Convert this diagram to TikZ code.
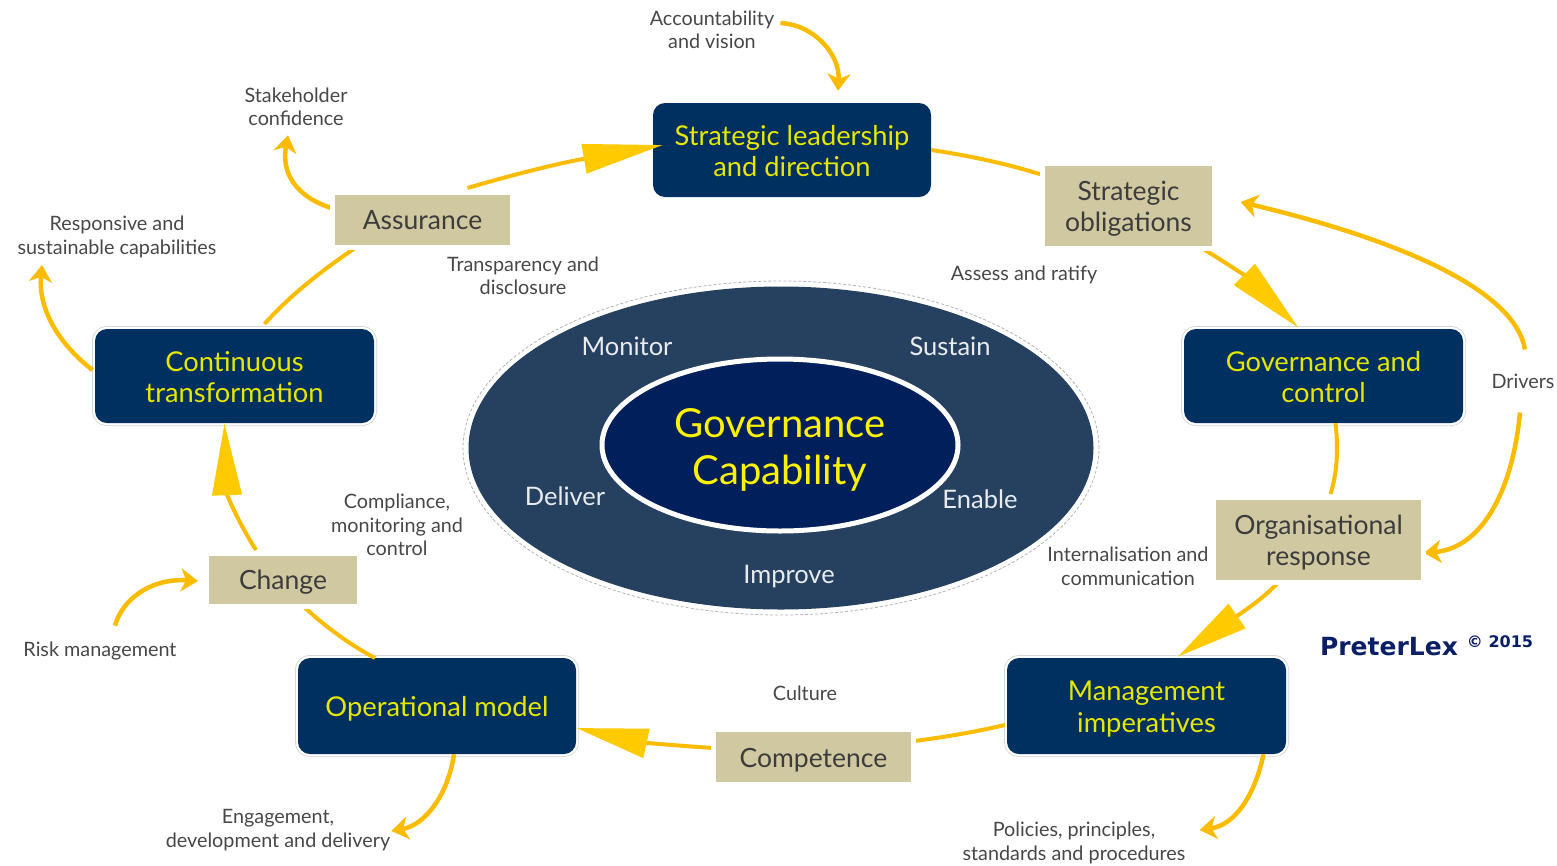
\documentclass[tikz,border=0pt]{standalone}
\usepackage{fontspec}
\setmainfont{Lato}
\newfontfamily\logofont{DejaVu Sans}
\usetikzlibrary{arrows.meta,shapes.geometric}
\definecolor{navybox}{HTML}{003060}
\definecolor{tanbox}{HTML}{CFC8A0}
\definecolor{ringc}{HTML}{264060}
\definecolor{corec}{HTML}{001F5B}
\definecolor{linec}{HTML}{FBBC00}
\definecolor{headc}{HTML}{FFCA00}
\definecolor{yellowt}{HTML}{E6E600}
\definecolor{darkt}{HTML}{3C3C3C}
\definecolor{labelt}{HTML}{474747}
\definecolor{logoc}{HTML}{0B1F66}
\newcommand\tanstrut{\rule{0pt}{25pt}}
\newcommand\navystrut{\rule{0pt}{22pt}}
\newcommand\lowstrut{\rule{0pt}{26pt}}
\tikzset{
  navyplain/.style={rectangle,rounded corners=12pt,inner sep=0pt,fill=navybox,text=yellowt,align=center,
    font=\fontsize{27.3}{31.5}\selectfont},
  navynode/.style={navyplain,preaction={draw=black!18,line width=6pt},preaction={draw=white,line width=4.5pt}},
  tannode/.style={rectangle,inner sep=0pt,fill=tanbox,text=darkt,align=center,
    font=\fontsize{26.5}{30.5}\selectfont,
    preaction={draw=white,line width=10pt}},
  lbl/.style={inner sep=0pt,text=labelt,align=center,font=\fontsize{19.8}{23.5}\selectfont},
  ringlbl/.style={inner sep=0pt,text=white!90!ringc,font=\fontsize{25.5}{30}\selectfont},
  thick link/.style={draw=linec,line width=4pt},
  big/.style={thick link,-{Triangle[length=#1,width=29pt,color=headc]}},
  thin link/.style={draw=linec,line width=4.5pt,-{Stealth[length=17pt,width=23pt,inset=5pt,color=linec]}},
}
\begin{document}
\begin{tikzpicture}[x=1pt,y=-1pt]
\useasboundingbox (0,0) rectangle (1557,865);
% central ellipses
\node[ellipse,minimum width=636pt,minimum height=334pt,inner sep=0pt,draw=black!30,densely dashed,line width=.8pt] (outerline) at (781,448) {};
\node[ellipse,minimum width=625pt,minimum height=323pt,inner sep=0pt,fill=ringc] (ring) at (781,448) {};
\node[ellipse,minimum width=356pt,minimum height=172pt,inner sep=0pt,fill=corec,draw=white,line width=5pt,text=yellow,align=center,font=\fontsize{40}{47}\selectfont] (core) at (780,445) {\rule{0pt}{38pt}Governance\\Capability};
\node[ringlbl] (monitor) at (627,346) {Monitor};
\node[ringlbl] (sustain) at (950,346) {Sustain};
\node[ringlbl] (deliver) at (565,496) {Deliver};
\node[ringlbl] (enable) at (980,499) {Enable};
\node[ringlbl] (improve) at (789,577) {Improve};
% navy boxes
\node[navyplain,minimum width=278pt,minimum height=94pt] (strategic) at (792,150) {\navystrut Strategic leadership\\and direction};
\node[navynode,minimum width=279pt,minimum height=94pt] (governance) at (1323.5,376) {\navystrut Governance and\\control};
\node[navynode,minimum width=279pt,minimum height=96pt] (management) at (1146.5,706) {\lowstrut Management\\imperatives};
\node[navynode,minimum width=278pt,minimum height=96pt] (operational) at (437,706) {\lowstrut Operational model};
\node[navynode,minimum width=279pt,minimum height=94pt] (continuous) at (234.5,376) {\navystrut Continuous\\transformation};
% text labels
\node[lbl] (account) at (712,30) {Accountability\\and vision};
\node[lbl] (stake) at (296,107) {Stakeholder\\confidence};
\node[lbl] (respons) at (117,237) {Responsive and\\sustainable capabilities};
\node[lbl] (transp) at (523,276) {Transparency and\\disclosure};
\node[lbl] (assess) at (1024,274.5) {Assess and ratify};
\node[lbl] (drivers) at (1523,381) {Drivers};
\node[lbl] (intern) at (1128,566.5) {Internalisation and\\communication};
\node[lbl] (culture) at (805,693) {Culture};
\node[lbl] (compl) at (397,525) {Compliance,\\monitoring and\\control};
\node[lbl] (risk) at (100,651) {Risk management};
\node[lbl] (engage) at (278,830) {Engagement,\\development and delivery};
\node[lbl] (policies) at (1074,843) {Policies, principles,\\standards and procedures};
% tan box centres are named first so that connectors can reach them; boxes are painted over the line ends
\path (422.5,220) coordinate (assuranceC) (1128.5,206) coordinate (obligC) (1318.5,540) coordinate (orgC)
      (813.5,757) coordinate (compC) (283,580) coordinate (changeC);
% main loop
\draw[big=80pt] ([shift={(45,-32)}]assuranceC) .. controls (515,174) and (560,163) .. ([shift={(10,-5)}]strategic.west);
\draw[thick link] (strategic.east) .. controls (965,155) and (1005,163) .. ([shift={(-86,-31)}]obligC);
\draw[big=76pt] ([shift={(70,40)}]obligC) .. controls (1225,262) and (1248,278) .. ([shift={(-25,-1)}]governance.north);
\draw[thick link] ([shift={(12,0)}]governance.south) .. controls (1338,445) and (1338,470) .. ([shift={(12,-46)}]orgC);
\draw[big=72pt] ([shift={(-38,40)}]orgC) .. controls (1266,596) and (1250,607) .. ([shift={(171,-1)}]management.north west);
\draw[thick link] ([shift={(-2,19)}]management.west) .. controls (975,732) and (945,737) .. ([shift={(101,-16)}]compC);
\draw[big=72pt] ([shift={(-100,-9)}]compC) .. controls (680,746) and (640,742) .. ([shift={(0,22)}]operational.east);
\draw[thick link] ([shift={(-62,-48)}]operational.center) .. controls (345,642) and (320,622) .. ([shift={(19,25)}]changeC);
\draw[big=72pt] ([shift={(-27,-30)}]changeC) .. controls (238,522) and (227,495) .. ([shift={(-10,0)}]continuous.south);
\draw[thick link] ([shift={(30,-52)}]continuous.center) .. controls (290,295) and (325,268) .. ([shift={(-63,25)}]assuranceC);
% side arrows
\draw[thin link] (account.east) ++(6,-7) .. controls (815,25) and (840,55) .. ([shift={(46,-12)}]strategic.north);
\draw[thin link] ([shift={(-91,-12)}]assuranceC) .. controls (305,200) and (280,180) .. ([shift={(-8,9)}]stake.south);
\draw[thin link] ([shift={(-142,-6)}]continuous.center) .. controls (60,345) and (38,310) .. ([shift={(-75,7)}]respons.south);
\draw[thin link] ([shift={(15,-16)}]risk.north) .. controls (122,600) and (150,578) .. ([shift={(-85,1)}]changeC);
\draw[thin link] ([shift={(17,0)}]operational.south) .. controls (448,795) and (425,825) .. ([shift={(1,1)}]engage.east);
\draw[thin link] ([shift={(117,0)}]management.south) .. controls (1255,795) and (1235,825) .. ([shift={(14,-13)}]policies.east);
\draw[thin link] ([shift={(2,-24)}]drivers.north) .. controls (1515,290) and (1400,240) .. ([shift={(112,-4)}]obligC);
\draw[thin link] ([shift={(-3,24)}]drivers.south) .. controls (1512,495) and (1480,548) .. ([shift={(105.5,13)}]orgC);
% tan boxes
\node[tannode,minimum width=167pt,minimum height=80pt] (obligations) at (obligC) {\tanstrut Strategic\\obligations};
\node[tannode,minimum width=205pt,minimum height=80pt] (organisational) at (orgC) {\tanstrut Organisational\\response};
\node[tannode,minimum width=195pt,minimum height=50pt] (competence) at (compC) {\tanstrut Competence};
\node[tannode,minimum width=148pt,minimum height=48pt] (change) at (changeC) {\rule{0pt}{23pt}Change};
\node[tannode,minimum width=175pt,minimum height=50pt] (assurance) at (assuranceC) {Assurance};
% logo
\node[inner sep=0pt,text=logoc,font=\logofont\bfseries\fontsize{25}{25}\selectfont] (logo) at (1389,647) {PreterLex};
\node[inner sep=0pt,text=logoc,font=\logofont\bfseries\fontsize{16}{16}\selectfont] (copy) at (1500,642) {© 2015};
\end{tikzpicture}
\end{document}
